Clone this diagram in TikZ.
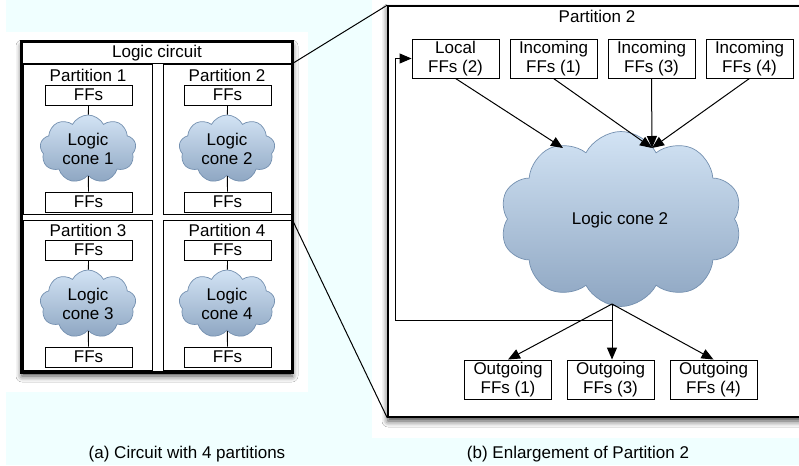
\documentclass[tikz,border=0pt]{standalone}
\usepackage{fontspec}
\setmainfont{Liberation Sans}
\usetikzlibrary{shapes.symbols,shadows.blur,arrows.meta}
\definecolor{bgcyan}{HTML}{F0FFFF}
\definecolor{cloudtop}{HTML}{D2E3F4}
\definecolor{cloudbot}{HTML}{8EA6C2}
\definecolor{cloudedge}{HTML}{7490B0}
\begin{document}
\begin{tikzpicture}[x=1pt,y=-1pt,
  font=\fontsize{17}{19.5}\selectfont,
  panel/.style={draw, line width=1.6pt, fill=white, inner sep=0pt,
    blur shadow={shadow xshift=0pt, shadow yshift=-4pt, shadow blur radius=6pt, shadow opacity=75}},
  partbox/.style={draw, line width=0.9pt, inner sep=0pt, minimum width=129pt, minimum height=150pt},
  ffs/.style={draw, line width=0.9pt, fill=white, inner sep=0pt, minimum width=87pt, minimum height=20pt},
  ffbig/.style={draw, line width=0.9pt, fill=white, inner sep=0pt, minimum width=87pt, minimum height=39pt, align=center},
  cloudbox/.style={cloud, cloud puffs=9, cloud puff arc=125, cloud ignores aspect, draw=cloudedge, line width=0.7pt,
    top color=cloudtop, bottom color=cloudbot, inner sep=0pt},
  lbl/.style={inner sep=0pt, align=center},
  arr/.style={line width=1pt, -{Triangle[length=12pt,width=10pt]}},
  ln/.style={line width=0.9pt}
]
\clip (0,0) rectangle (799,465);
\fill[white] (0,0) rectangle (799,465);
\fill[bgcyan] (6,0) rectangle (799,465);
\fill[white] (0,32) rectangle (308,392);
\fill[white] (372,0) rectangle (799,438);

% ---------- left: logic circuit ----------
\node[panel, minimum width=270pt, minimum height=330pt] (lc) at (157,207) {};
\node[lbl] (lct) at (157,53) {Logic circuit};
\draw[ln] (lc.west |- 0,63) -- (lc.east |- 0,63);
\node[partbox] (p1) at (87.5,139) {};
\node[partbox] (p2) at (227.5,139) {};
\node[partbox] (p3) at (87.5,295.5) {};
\node[partbox] (p4) at (227.5,295.5) {};
\draw[line width=1.6pt] (lc.north west) rectangle (lc.south east);

\foreach \n/\x/\y in {1/88/0, 2/227/0, 3/88/155, 4/227/155} {
  \node[lbl] (pl\n) at (\x,75+\y) {Partition \n};
  \node[ffs] (pa\n) at (\x+0.5,95+\y) {FFs};
  \node[ffs] (pb\n) at (\x+0.5,202+\y) {FFs};
  \node[cloudbox, minimum width=96pt, minimum height=68pt] (pc\n) at (\x,149+\y) {};
  \node[lbl] (pt\n) at (\x,149+\y) {Logic\\cone \n};
  \draw[ln] (pa\n.south) -- (pc\n);
  \draw[ln] (pc\n) -- (pb\n.north);
}

% ---------- right: enlargement ----------
\node[panel, minimum width=422pt, minimum height=411pt] (big) at (599,211.5) {};
\draw[line width=1pt] (p2.north east) -- (big.north west);
\draw[line width=1pt] (p4.north east) -- (big.south west);
\node[lbl] (bt) at (597,16) {Partition 2};

\node[ffbig] (loc) at (455.5,58.5) {Local\\FFs (2)};
\node[ffbig] (in1) at (553.5,58.5) {Incoming\\FFs (1)};
\node[ffbig] (in3) at (651.5,58.5) {Incoming\\FFs (3)};
\node[ffbig] (in4) at (749.5,58.5) {Incoming\\FFs (4)};

\node[cloudbox, cloud puffs=10, minimum width=242pt, minimum height=175pt] (bc) at (621,219) {};
\node[lbl] (bct) at (620,220) {Logic cone 2};

\coordinate (cA) at (563,148);
\coordinate (cB) at (652,148);
\coordinate (hub) at (612,304);
\coordinate (fbL) at (395,320);

\draw[arr] (loc.south) -- (cA);
\draw[arr] (in1.south) -- (cB);
\draw[arr] (in3.south) -- (cB);
\draw[arr] (in4.south) -- (cB);

\node[ffbig] (o1) at (508,379.5) {Outgoing\\FFs (1)};
\node[ffbig] (o3) at (610.5,379.5) {Outgoing\\FFs (3)};
\node[ffbig] (o4) at (713.5,379.5) {Outgoing\\FFs (4)};

\draw[arr] (hub) -- (o1.north);
\draw[arr] (hub) -- (o3.north -| hub);
\draw[arr] (hub) -- (o4.north);
\draw[arr] (hub) |- (fbL) |- (loc.west);

% ---------- captions ----------
\node[lbl] (capa) at (187,454) {(a) Circuit with 4 partitions};
\node[lbl] (capb) at (578,454) {(b) Enlargement of Partition 2};
\end{tikzpicture}
\end{document}
